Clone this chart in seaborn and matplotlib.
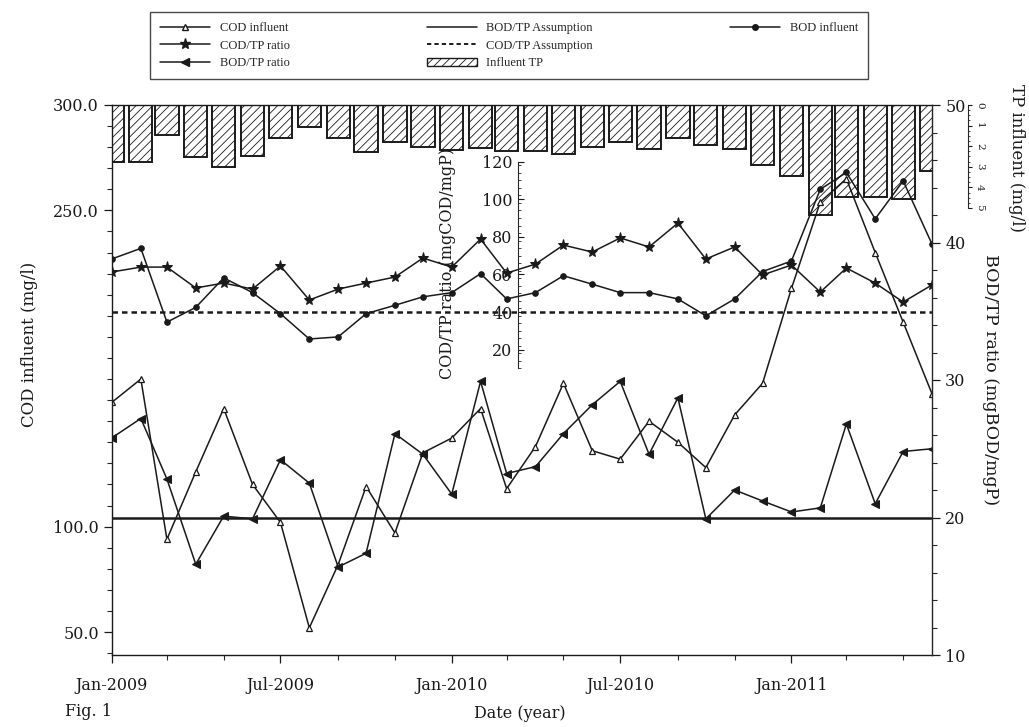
import pandas as pd
import seaborn as sns
import matplotlib.pyplot as plt
import matplotlib.dates as mdates
from matplotlib.ticker import FixedLocator, MultipleLocator, FormatStrFormatter
from matplotlib.lines import Line2D
from matplotlib.patches import Patch

# monthly samples, Jan 2009 - Jun 2011
months = pd.date_range('2009-01-01', periods=30, freq='MS')

cod_influent = [159, 170, 94, 126, 156, 120, 102, 52, 82, 119, 97, 135,
                142, 156, 118, 138, 168, 136, 132, 150, 140, 128, 153, 168,
                213, 254, 265, 230, 197, 163]
bod_influent = [227, 232, 197, 204, 218, 211, 201, 189, 190, 201, 205, 209,
                211, 220, 208, 211, 219, 215, 211, 211, 208, 200, 208, 221,
                226, 260, 268, 246, 264, 234]
cod_tp_ratio = [61.3, 63.9, 63.9, 52.8, 55.4, 52.2, 64.5, 46.4, 52.2, 55.4, 58.6, 68.7,
                63.9, 78.8, 60.7, 65.5, 75.6, 71.9, 79.4, 74.6, 87.3, 68.2, 74.6, 59.7,
                65.0, 50.6, 63.4, 55.4, 45.3, 54.4]
bod_tp_ratio = [25.8, 27.2, 22.8, 16.6, 20.1, 19.9, 24.2, 22.5, 16.4, 17.4, 26.1, 24.6,
                21.7, 29.9, 23.2, 23.7, 26.1, 28.2, 29.9, 24.6, 28.7, 19.9, 22.0, 21.2,
                20.4, 20.7, 26.8, 21.0, 24.8, 25.0]
tp_influent = [2.76, 2.78, 1.46, 2.54, 3.00, 2.48, 1.62, 1.08, 1.62, 2.27, 1.78, 2.02,
               2.18, 2.10, 2.22, 2.25, 2.38, 2.02, 1.78, 2.14, 1.62, 1.94, 2.15, 2.91,
               3.45, 5.34, 4.45, 4.45, 4.58, 3.19]
bod_tp_assumption = 20
cod_tp_assumption = 40

sns.set_style('ticks')
plt.rcParams['font.family'] = ['DejaVu Serif']
plt.rcParams['hatch.linewidth'] = 0.6
plt.rcParams['hatch.color'] = '#555555'
ink = '#1a1a1a'

fig = plt.figure(figsize=(10.29, 7.27), dpi=100)
rect = [112 / 1029, 1 - 655 / 727, 820 / 1029, 550 / 727]

# host axes: influent TP bars hanging from the top
ax_tp = fig.add_axes(rect)
ax_tp.bar(months, tp_influent, width=25, color='white', edgecolor=ink,
          hatch='////', linewidth=1.4)
ax_tp.set_ylim(26.7, 0)
ax_tp.xaxis.set_visible(False)
for s in ['left', 'top', 'bottom']:
    ax_tp.spines[s].set_visible(False)
ax_tp.spines['right'].set_position(('axes', 1.044))
ax_tp.spines['right'].set_bounds(0, 5)
ax_tp.spines['right'].set_linewidth(0.8)
ax_tp.yaxis.tick_right()
ax_tp.yaxis.set_major_locator(FixedLocator(range(0, 6)))
ax_tp.yaxis.set_minor_locator(FixedLocator([i * 0.25 for i in range(21)]))
ax_tp.tick_params(axis='y', which='major', labelsize=7.5, length=3, pad=2,
                  labelrotation=270, colors=ink)
ax_tp.tick_params(axis='y', which='minor', length=1.5)

# main axes: COD / BOD influent
ax = fig.add_axes(rect, sharex=ax_tp)
ax.patch.set_visible(False)
sns.lineplot(x=months, y=cod_influent, ax=ax, color=ink, linewidth=1.1,
             marker='^', markersize=5, mfc='white', mec=ink, mew=0.9)
sns.lineplot(x=months, y=bod_influent, ax=ax, color=ink, linewidth=1.1,
             marker='o', markersize=4, mfc=ink, mec=ink)
ax.set_ylim(39.1, 300)
ax.set_xlim(months[0], months[-1])
ax.yaxis.set_major_locator(FixedLocator([50, 100, 250, 300]))
ax.yaxis.set_major_formatter(FormatStrFormatter('%.1f'))
ax.yaxis.set_minor_locator(MultipleLocator(10))
ax.xaxis.set_major_locator(mdates.MonthLocator(bymonth=[1, 7]))
ax.xaxis.set_minor_locator(mdates.MonthLocator(bymonth=[1, 3, 5, 7, 9, 11]))
ax.xaxis.set_major_formatter(mdates.DateFormatter('%b-%Y'))
ax.tick_params(axis='both', which='major', labelsize=11.5, length=6, width=0.9,
               colors=ink)
ax.tick_params(axis='both', which='minor', length=3.5, width=0.8)
ax.tick_params(axis='x', which='major', pad=10)
ax.set_xlabel('')
ax.set_ylabel('')
for s in ax.spines.values():
    s.set_linewidth(1.0)
    s.set_color(ink)
ax.spines['right'].set_visible(False)

# inner axes: COD/TP ratio
ax_in = fig.add_axes(rect, sharex=ax_tp)
ax_in.patch.set_visible(False)
sns.lineplot(x=months, y=cod_tp_ratio, ax=ax_in, color=ink, linewidth=1.1,
             marker='*', markersize=8, mfc=ink, mec=ink)
ax_in.axhline(cod_tp_assumption, color=ink, linewidth=1.8, linestyle=(0, (2.2, 1.6)))
ax_in.set_ylim(-142.4, 150.1)
ax_in.xaxis.set_visible(False)
for s in ['right', 'top', 'bottom']:
    ax_in.spines[s].set_visible(False)
ax_in.spines['left'].set_position(('axes', 406 / 820))
ax_in.spines['left'].set_bounds(10, 120)
ax_in.spines['left'].set_linewidth(0.8)
ax_in.yaxis.set_major_locator(FixedLocator(range(20, 121, 20)))
ax_in.yaxis.set_minor_locator(FixedLocator(range(10, 121, 4)))
ax_in.tick_params(axis='y', which='major', direction='in', labelsize=11.5,
                  length=4, pad=4, colors=ink)
ax_in.tick_params(axis='y', which='minor', direction='in', length=2)
ax_in.set_ylabel('')

# right axes: BOD/TP ratio
ax_r = fig.add_axes(rect, sharex=ax_tp)
ax_r.patch.set_visible(False)
sns.lineplot(x=months, y=bod_tp_ratio, ax=ax_r, color=ink, linewidth=1.1,
             marker='<', markersize=6, mfc=ink, mec=ink)
ax_r.axhline(bod_tp_assumption, color=ink, linewidth=1.8)
ax_r.set_ylim(10, 50)
ax_r.xaxis.set_visible(False)
for s in ['left', 'top', 'bottom']:
    ax_r.spines[s].set_visible(False)
ax_r.spines['right'].set_linewidth(1.0)
ax_r.yaxis.tick_right()
ax_r.yaxis.set_major_locator(MultipleLocator(10))
ax_r.yaxis.set_minor_locator(MultipleLocator(2))
ax_r.tick_params(axis='y', which='major', labelsize=11.5, length=6, width=0.9,
                 colors=ink)
ax_r.tick_params(axis='y', which='minor', length=3.5, width=0.8)
ax_r.set_ylabel('')

# axis titles
fig.text(30 / 1029, 1 - 344 / 727, 'COD influent (mg/l)', rotation=90,
         ha='center', va='center', fontsize=12, color=ink)
fig.text(990 / 1029, 1 - 380 / 727, 'BOD/TP ratio (mgBOD/mgP)', rotation=270,
         ha='center', va='center', fontsize=12.5, color=ink)
fig.text(1017 / 1029, 1 - 158 / 727, 'TP influent (mg/l)', rotation=270,
         ha='center', va='center', fontsize=12, color=ink)
fig.text(448 / 1029, 1 - 263 / 727, 'COD/TP ratio (mgCOD/mgP)', rotation=90,
         ha='center', va='center', fontsize=11.5, color=ink)
fig.text(520 / 1029, 1 - 714 / 727, 'Date (year)', ha='center', va='center',
         fontsize=11.5, color=ink)
fig.text(65 / 1029, 1 - 712 / 727, 'Fig. 1', ha='left', va='center',
         fontsize=11.5, color=ink)

# legend: three columns of 3, 3 and 1 entries
line_kw = dict(color=ink, linewidth=1.1)
blank = Line2D([], [], linestyle='none')
handles = [
    Line2D([], [], marker='^', markersize=5, mfc='white', mec=ink, **line_kw),
    Line2D([], [], marker='*', markersize=8, mfc=ink, mec=ink, **line_kw),
    Line2D([], [], marker='<', markersize=6, mfc=ink, mec=ink, **line_kw),
    Line2D([], [], **line_kw),
    Line2D([], [], linestyle=(0, (2.2, 1.6)), color=ink, linewidth=1.4),
    Patch(facecolor='white', edgecolor=ink, hatch='////'),
    Line2D([], [], marker='o', markersize=4, mfc=ink, mec=ink, **line_kw),
    blank, blank,
]
labels = ['COD influent', 'COD/TP ratio', 'BOD/TP ratio', 'BOD/TP Assumption',
          'COD/TP Assumption', 'Influent TP', 'BOD influent', '', '']
leg = fig.legend(handles, labels, ncol=3, loc='upper left',
                 bbox_to_anchor=(150 / 1029, 1 - 12 / 727, 718 / 1029, 0),
                 mode='expand', prop={'family': 'Liberation Serif', 'size': 9},
                 frameon=True, fancybox=False, handlelength=4, borderaxespad=0,
                 labelspacing=0.45, columnspacing=2, borderpad=0.8)
leg.get_frame().set_edgecolor(ink)
leg.get_frame().set_linewidth(1.0)

fig.savefig('out.png', dpi=100)
